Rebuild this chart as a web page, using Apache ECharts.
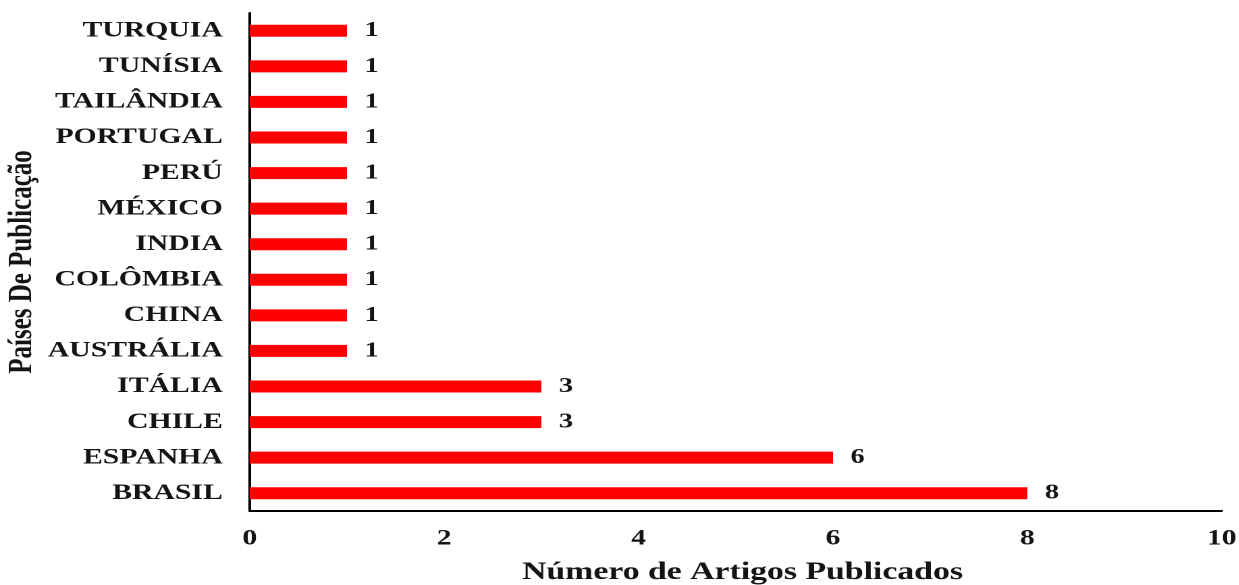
<!DOCTYPE html>
<html>
<head>
<meta charset="utf-8">
<title>Países De Publicação</title>
<script src="https://cdn.jsdelivr.net/npm/echarts@6/dist/echarts.min.js"></script>
<style>
  html, body { margin: 0; padding: 0; background: #fff; overflow: hidden; }
  /* The chart is laid out narrow and widened with a horizontal stretch,
     which gives the broad serif lettering of the printed figure. */
  #chart {
    position: absolute; left: 0; top: 0;
    width: 918px; height: 585px;
    transform: scaleX(1.35);
    transform-origin: 0 0;
  }
</style>
</head>
<body>
<div id="chart"></div>
<script>
// Countries, listed from the bottom bar to the top bar
const countries = [
  'BRASIL', 'ESPANHA', 'CHILE', 'ITÁLIA', 'AUSTRÁLIA', 'CHINA', 'COLÔMBIA',
  'INDIA', 'MÉXICO', 'PERÚ', 'PORTUGAL', 'TAILÂNDIA', 'TUNÍSIA', 'TURQUIA'
];
// Number of published articles per country
const articles = [8, 6, 3, 3, 1, 1, 1, 1, 1, 1, 1, 1, 1, 1];
// Value axis range and step
const axisMin = 0;
const axisMax = 10;
const axisStep = 2;

const serif = "'Liberation Serif', 'Times New Roman', 'DejaVu Serif', serif";
const ink = '#141414';

const chart = echarts.init(document.getElementById('chart'), null, {
  renderer: 'canvas',
  devicePixelRatio: 2
});

chart.setOption({
  animation: false,
  backgroundColor: '#ffffff',
  grid: {
    left: 185, right: 13, top: 13, bottom: 74,
    containLabel: false,
    outerBoundsMode: 'none'
  },
  xAxis: {
    type: 'value',
    min: axisMin,
    max: axisMax,
    interval: axisStep,
    name: 'Número de Artigos Publicados',
    nameLocation: 'middle',
    nameGap: 49,
    nameMoveOverlap: false,
    nameTextStyle: {
      fontFamily: serif, fontWeight: 'bold', fontSize: 25, color: ink,
      padding: [0, 0, 0, 10]
    },
    axisLine: { show: true, lineStyle: { color: '#000', width: 2 } },
    axisTick: { show: false },
    splitLine: { show: false },
    axisLabel: { margin: 17, fontFamily: serif, fontWeight: 'bold', fontSize: 22, color: ink }
  },
  yAxis: {
    type: 'category',
    data: countries,
    name: 'Países De Publicação',
    nameLocation: 'middle',
    nameGap: 156,
    nameRotate: 90,
    nameMoveOverlap: false,
    nameTextStyle: { fontFamily: serif, fontWeight: 'bold', fontSize: 25, color: ink },
    axisLine: { show: true, lineStyle: { color: '#000', width: 2 } },
    axisTick: { show: false },
    axisLabel: { margin: 20, fontFamily: serif, fontWeight: 'bold', fontSize: 22, color: ink }
  },
  series: [{
    type: 'bar',
    data: articles,
    barWidth: 12,
    itemStyle: { color: '#ff0000' },
    label: {
      show: true,
      position: 'right',
      distance: 13,
      fontFamily: serif,
      fontWeight: 'bold',
      fontSize: 21,
      color: ink
    }
  }]
});
</script>
</body>
</html>
